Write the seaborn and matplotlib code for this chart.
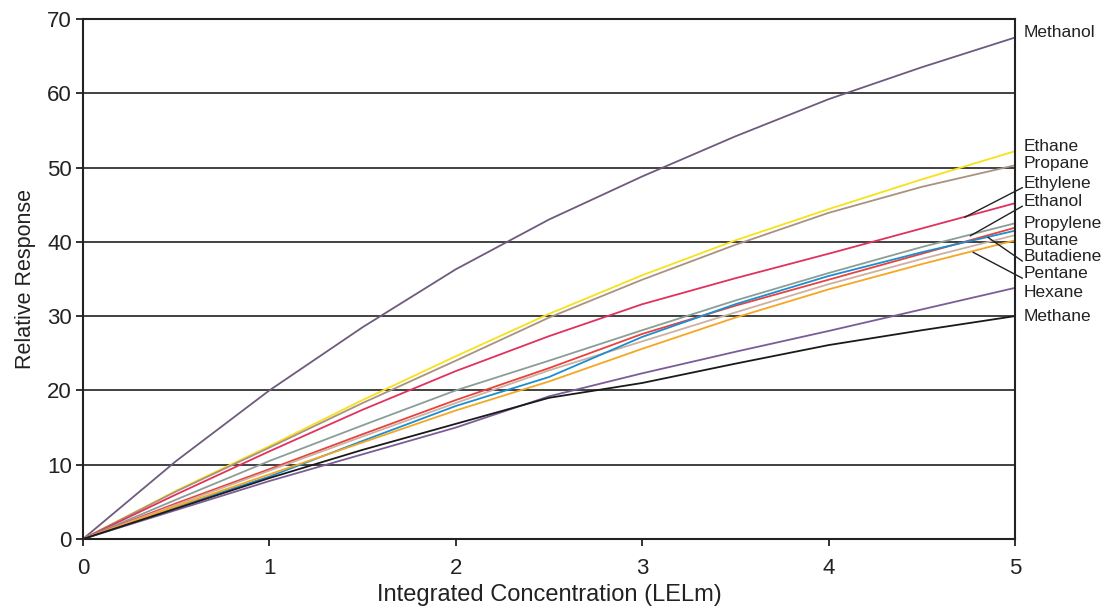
import seaborn as sns
import matplotlib.pyplot as plt
import pandas as pd

# concentration steps (LELm)
conc = [0, 0.5, 1, 1.5, 2, 2.5, 3, 3.5, 4, 4.5, 5]

methanol = [0, 10.5, 20.0, 28.5, 36.3, 43.0, 48.8, 54.2, 59.2, 63.5, 67.5]
ethane = [0, 6.5, 12.5, 18.7, 24.6, 30.3, 35.5, 40.2, 44.4, 48.4, 52.2]
propane = [0, 6.4, 12.3, 18.3, 24.0, 29.8, 34.9, 39.6, 43.9, 47.4, 50.3]
ethylene = [0, 6.0, 11.8, 17.4, 22.6, 27.3, 31.6, 35.1, 38.4, 41.8, 45.2]
ethanol = [0, 5.3, 10.5, 15.3, 20.0, 24.0, 28.1, 32.1, 35.8, 39.3, 42.5]
propylene = [0, 4.8, 9.4, 14.1, 18.7, 23.0, 27.6, 31.4, 34.9, 38.4, 41.9]
butane = [0, 4.6, 9.2, 13.8, 18.3, 22.7, 26.6, 30.5, 34.3, 37.7, 40.9]
butadiene = [0, 4.3, 8.4, 13.2, 17.9, 21.8, 27.2, 31.6, 35.4, 38.6, 41.5]
pentane = [0, 4.4, 8.7, 13.0, 17.3, 21.2, 25.6, 29.8, 33.6, 37.0, 40.2]
hexane = [0, 3.9, 7.8, 11.4, 15.0, 19.2, 22.3, 25.2, 28.0, 30.9, 33.8]
methane = [0, 4.1, 8.2, 12.0, 15.5, 19.0, 21.0, 23.6, 26.1, 28.1, 30.0]

gases = ['Methanol', 'Ethane', 'Propane', 'Ethylene', 'Ethanol', 'Propylene',
         'Butane', 'Butadiene', 'Pentane', 'Hexane', 'Methane']
values = [methanol, ethane, propane, ethylene, ethanol, propylene,
          butane, butadiene, pentane, hexane, methane]
colors = ['#6e5a7e', '#f7e11a', '#a89282', '#e0325c', '#8a9e99', '#e8423c',
          '#cdb0a3', '#1a8ed0', '#f5a623', '#7b5c98', '#1a1a1a']

# label placement on the right side (y in data units)
label_y = [68.2, 52.9, 50.5, 47.9, 45.4, 42.5, 40.2, 38.0, 35.7, 33.2, 29.9]
# leader lines: gas -> point on curve
leaders = {'Ethylene': (4.73, 43.3), 'Ethanol': (4.76, 40.8),
           'Butadiene': (4.855, 40.6), 'Pentane': (4.775, 38.6)}

rows = []
for g, v in zip(gases, values):
    for x, y in zip(conc, v):
        rows.append({'Gas': g, 'Conc': x, 'Resp': y})
df = pd.DataFrame(rows)

sns.set_style('white')
plt.rcParams['font.family'] = ['Liberation Sans', 'DejaVu Sans']

fig = plt.figure(figsize=(11.09, 6.12), dpi=100)
ax = fig.add_axes([0.0748, 0.1193, 0.8404, 0.8497])

for y in range(10, 70, 10):
    ax.axhline(y, color='#333333', lw=1.3, zorder=0)

sns.lineplot(data=df, x='Conc', y='Resp', hue='Gas', hue_order=gases,
             palette=colors, lw=1.3, legend=False, ax=ax)

ax.set_xlim(0, 5)
ax.set_ylim(0, 70)
ax.set_xticks(range(0, 6))
ax.set_yticks(range(0, 80, 10))
ax.tick_params(axis='both', which='major', labelsize=16, length=5, width=1.3,
               direction='out', color='#222222', labelcolor='#222222',
               bottom=True, left=True)
ax.tick_params(axis='x', pad=9)
ax.tick_params(axis='y', pad=3)
for s in ax.spines.values():
    s.set_color('#222222')
    s.set_linewidth(1.5)

ax.set_xlabel('Integrated Concentration (LELm)', fontsize=17, color='#222222', labelpad=3)
ax.set_ylabel('Relative Response', fontsize=15.5, color='#222222', labelpad=8)

for g, ly in zip(gases, label_y):
    ax.text(5.045, ly, g, fontsize=12.5, color='#222222', va='center', ha='left',
            clip_on=False)
    if g in leaders:
        px, py = leaders[g]
        ax.plot([px, 5.04], [py, ly - 0.6], color='#222222', lw=1.0, clip_on=False)

fig.savefig('out.png', dpi=100)
